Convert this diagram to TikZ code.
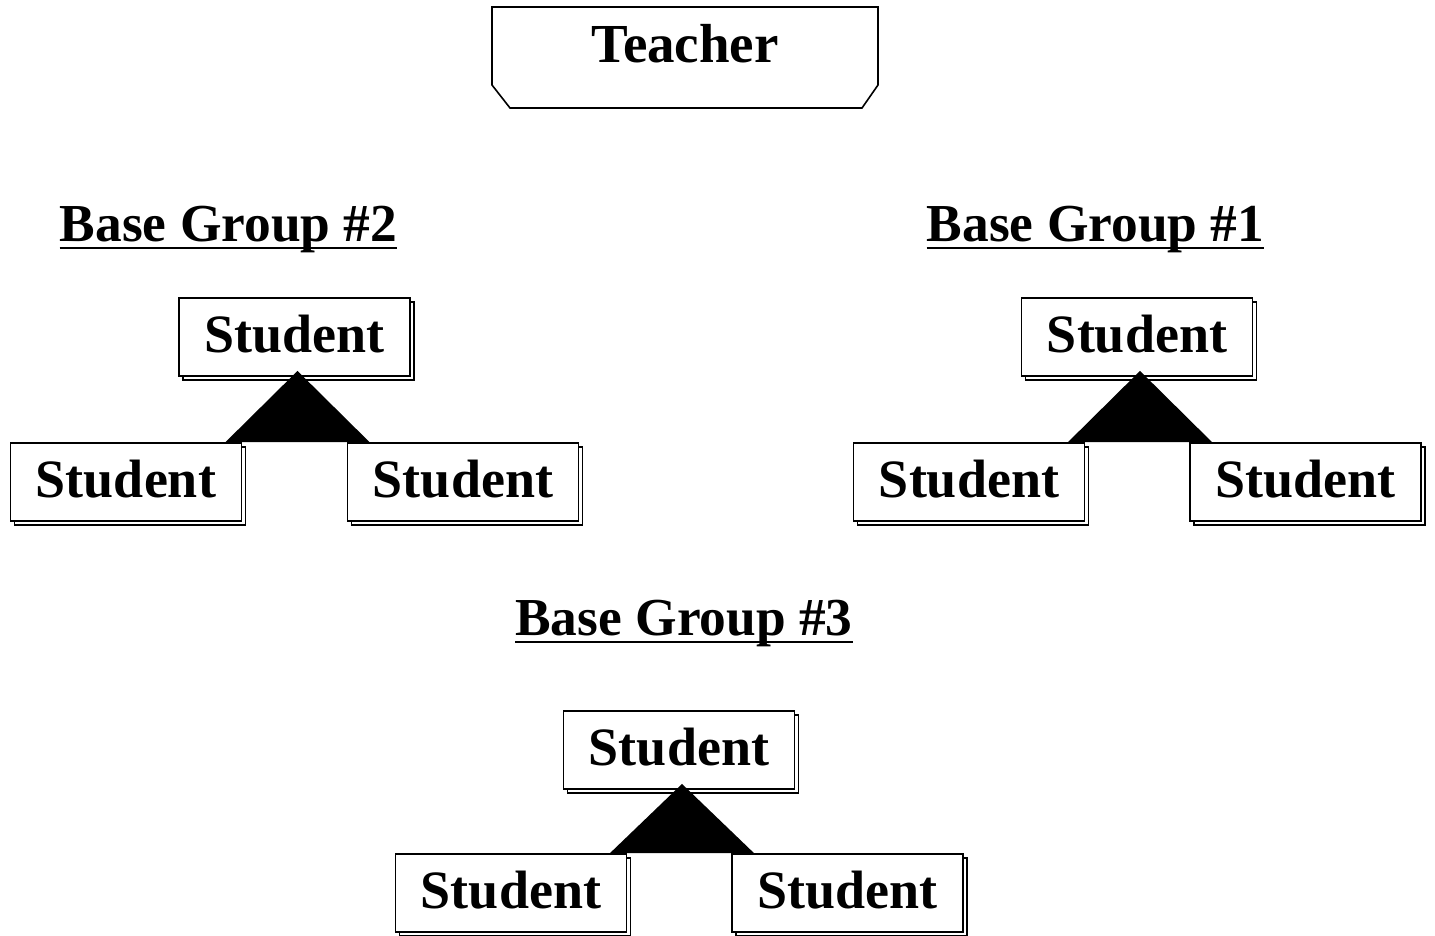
\documentclass[tikz,border=0pt]{standalone}
\usepackage{fontspec}
\setmainfont{Liberation Serif}
\usetikzlibrary{calc,shadows}
\begin{document}
\begin{tikzpicture}[x=1pt,y=-1pt,
  bigtext/.style={font=\fontsize{54}{60}\selectfont\bfseries, inner sep=0pt},
  studentbox/.style={bigtext, draw, line width=1.8pt, fill=white,
    minimum width=231pt, minimum height=78pt, text depth=7pt,
    copy shadow={shadow xshift=4pt, shadow yshift=-4pt, line width=1.2pt}},
  title/.style={bigtext, font=\fontsize{53.4}{60}\selectfont\bfseries, anchor=base},
  rule/.style={line width=2.6pt},
  link/.style={fill=black}
]
\useasboundingbox (0,0) rectangle (1435,935);

% teacher box with bevelled lower corners
\node[bigtext, font=\fontsize{55}{60}\selectfont\bfseries] (T) at (685,44) {Teacher};
\draw[line width=1.6pt, line join=miter]
  ($(T)+(-193,-37)$) -- ($(T)+(193,-37)$) -- ($(T)+(193,41)$) -- ($(T)+(177,64)$)
  -- ($(T)+(-175,64)$) -- ($(T)+(-193,41)$) -- cycle;

% group titles
\node[title] (t2) at (228.5,241) {Base Group \#2};
\node[title] (t1) at (1095.5,241) {Base Group \#1};
\node[title] (t3) at (684,635) {Base Group \#3};
\foreach \t in {t1,t2,t3}
  \draw[rule] ([yshift=-7pt]\t.base west) -- ([yshift=-7pt]\t.base east);

% students of each group
\node[studentbox] (a0) at (294.5,337) {Student};
\node[studentbox] (a1) at (126,482) {Student};
\node[studentbox] (a2) at (463,482) {Student};

\node[studentbox] (b0) at (1137,337) {Student};
\node[studentbox] (b1) at (969,482) {Student};
\node[studentbox] (b2) at (1305.5,482) {Student};

\node[studentbox] (c0) at (679,750) {Student};
\node[studentbox] (c1) at (511,893) {Student};
\node[studentbox] (c2) at (847.5,893) {Student};

% solid triangles joining each group
\foreach \p/\l in {a0/a1,b0/b1,c0/c1}
  \fill[link] ($(\p.south)+(3,-6)$) -- ($(\p.south |- \l.north)+(-69,0)$)
    -- ($(\p.south |- \l.north)+(75,0)$) -- cycle;
\end{tikzpicture}
\end{document}
